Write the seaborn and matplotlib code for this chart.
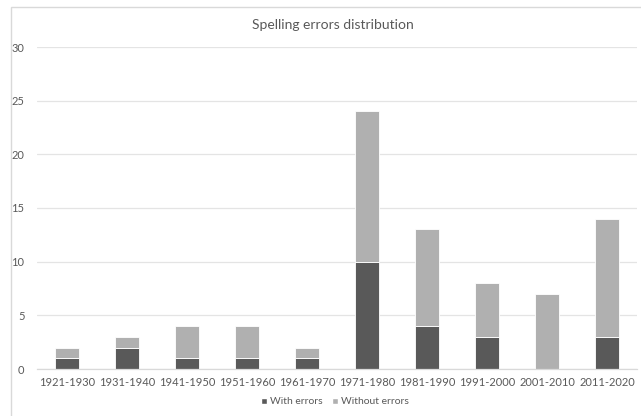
import matplotlib
matplotlib.use("Agg")
import matplotlib.pyplot as plt
from matplotlib.patches import Rectangle, Patch
import seaborn as sns
import pandas as pd

decades = ["1921-1930", "1931-1940", "1941-1950", "1951-1960", "1961-1970",
           "1971-1980", "1981-1990", "1991-2000", "2001-2010", "2011-2020"]
with_errors = [1, 2, 1, 1, 1, 10, 4, 3, 0, 3]
without_errors = [1, 1, 3, 3, 1, 14, 9, 5, 7, 11]
y_ticks = [0, 5, 10, 15, 20, 25, 30]

sns.set_theme(style="white")
plt.rcParams["font.family"] = ["Lato", "DejaVu Sans"]

df = pd.DataFrame({"decade": decades, "with": with_errors, "without": without_errors})

dark = "#595959"
light = "#b0b0b0"
text_col = "#595959"

fig = plt.figure(figsize=(6.41, 4.16), dpi=100)
W, H = 641, 416
ax = fig.add_axes([37 / W, (H - 369) / H, 600 / W, 322 / H])

sns.barplot(data=df, x="decade", y="with", color=dark, width=0.4,
            edgecolor="white", linewidth=0.6, saturation=1, ax=ax)
sns.barplot(data=df, x="decade", y="without", bottom=df["with"], color=light,
            width=0.4, edgecolor="white", linewidth=0.6, saturation=1, ax=ax)

ax.set_ylim(0, 30)
ax.set_yticks(y_ticks)
ax.set_xlim(-0.5, len(decades) - 0.5)
ax.set_xlabel("")
ax.set_ylabel("")
ax.yaxis.grid(True, color="#e4e4e4", linewidth=0.9)
ax.set_axisbelow(True)
for side in ["left", "right", "top"]:
    ax.spines[side].set_visible(False)
ax.spines["bottom"].set_color("#d9d9d9")
ax.spines["bottom"].set_linewidth(0.9)
ax.tick_params(axis="both", length=0, labelsize=8, colors=text_col)
ax.tick_params(axis="y", pad=9)
ax.tick_params(axis="x", pad=6)

fig.text(333 / W, 1 - 25 / H, "Spelling errors distribution", ha="center",
         va="center", fontsize=10, color=text_col)

# chart area frame
fig.patches.append(Rectangle((11 / W, -0.01), 1.0, 1 - 7 / H + 0.01,
                             transform=fig.transFigure, fill=False,
                             edgecolor="#d9d9d9", linewidth=1.0))

handles = [Patch(facecolor=dark, label="With errors"),
           Patch(facecolor=light, label="Without errors")]
fig.legend(handles=handles, loc="center", bbox_to_anchor=(335 / W, 1 - 402 / H),
           ncol=2, frameon=False, fontsize=7.5, handlelength=0.6,
           handleheight=0.6, handletextpad=0.3, columnspacing=0.9,
           labelcolor=text_col)

fig.savefig("out.png", dpi=100)
